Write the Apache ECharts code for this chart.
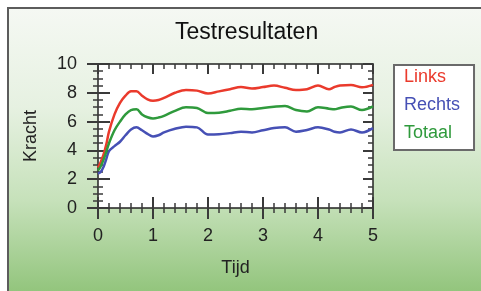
<!DOCTYPE html>
<html>
<head>
<meta charset="utf-8">
<script src="https://cdn.jsdelivr.net/npm/echarts@6/dist/echarts.min.js"></script>
<style>
  html, body { margin: 0; padding: 0; background: #fff; }
  #bg {
    position: absolute; left: 7px; top: 7px; width: 474px; height: 284px;
    border-top: 2px solid #5c5c5c; border-left: 2px solid #5c5c5c;
    box-sizing: border-box;
    background: linear-gradient(#f5f8f3 0%, #e6f1e1 35%, #c6e1ba 68%, #93c57d 100%);
  }
  #chart { position: absolute; left: 0; top: 0; width: 481px; height: 291px; }
</style>
</head>
<body>
<div id="bg"></div>
<div id="chart"></div>
<script>
// time (x) shared by all three curves
const tijd = [0, 0.05, 0.1, 0.15, 0.2, 0.3, 0.4, 0.5, 0.6, 0.7, 0.8, 0.9, 1.0, 1.1, 1.2, 1.4, 1.6, 1.8,
  2.0, 2.2, 2.4, 2.6, 2.8, 3.0, 3.2, 3.4, 3.6, 3.8, 4.0, 4.2, 4.3, 4.4, 4.6, 4.8, 5.0];

const links = [2.8, 3.2, 3.7, 4.4, 5.3, 6.5, 7.3, 7.8, 8.1, 8.1, 7.8, 7.55, 7.45, 7.5, 7.65, 8.0, 8.2, 8.15,
  7.95, 8.1, 8.25, 8.4, 8.3, 8.4, 8.5, 8.35, 8.2, 8.25, 8.5, 8.25, 8.4, 8.5, 8.55, 8.38, 8.55];

const rechts = [2.4, 2.5, 2.85, 3.4, 3.95, 4.3, 4.6, 5.05, 5.45, 5.6, 5.4, 5.15, 4.97, 5.05, 5.25, 5.5, 5.65, 5.6,
  5.1, 5.12, 5.2, 5.3, 5.25, 5.4, 5.55, 5.6, 5.3, 5.42, 5.6, 5.45, 5.3, 5.25, 5.45, 5.25, 5.55];

const totaal = [2.6, 2.9, 3.35, 3.9, 4.5, 5.4, 6.0, 6.5, 6.8, 6.85, 6.5, 6.3, 6.22, 6.28, 6.4, 6.75, 7.0, 6.95,
  6.6, 6.62, 6.75, 6.9, 6.85, 6.95, 7.03, 7.08, 6.8, 6.7, 7.0, 6.9, 6.85, 6.95, 7.05, 6.8, 7.05];

const seriesNames = ['Links', 'Rechts', 'Totaal'];
const seriesColors = ['#ea3a2c', '#4650b5', '#2f9a3c'];
const seriesValues = [links, rechts, totaal];

const font = 'Liberation Sans, Arial, sans-serif';
const tickColor = '#3a3a3a';

function xAx(extra) {
  return Object.assign({
    type: 'value', min: 0, max: 5, interval: 1,
    splitLine: { show: false },
    axisLine: { show: false, onZero: false },
    axisLabel: { show: false },
    axisTick: { show: true, length: 11, lineStyle: { color: tickColor, width: 2 } },
    minorTick: { show: true, splitNumber: 5, length: 5, lineStyle: { color: tickColor, width: 1.5 } }
  }, extra);
}
function yAx(extra) {
  return Object.assign({
    type: 'value', min: 0, max: 10, interval: 2,
    splitLine: { show: false },
    axisLine: { show: false, onZero: false },
    axisLabel: { show: false },
    axisTick: { show: true, length: 11, lineStyle: { color: tickColor, width: 2 } },
    minorTick: { show: true, splitNumber: 4, length: 5, lineStyle: { color: tickColor, width: 1.5 } }
  }, extra);
}
const frameLine = { show: true, onZero: false, lineStyle: { color: '#222', width: 1.5 } };

const chart = echarts.init(document.getElementById('chart'), null, { renderer: 'canvas' });
chart.setOption({
  animation: false,
  backgroundColor: 'transparent',
  title: {
    text: 'Testresultaten', left: 170, top: 16,
    textStyle: { fontFamily: font, fontSize: 23, fontWeight: 'normal', color: '#111' }
  },
  legend: {
    orient: 'vertical', left: 394, top: 65,
    padding: [3, 14, 8, 5],
    backgroundColor: '#fff', borderColor: '#6a6a6a', borderWidth: 2,
    icon: 'rect', itemWidth: 0, itemHeight: 16, itemGap: 10,
    itemStyle: { opacity: 0 }, lineStyle: { opacity: 0 },
    textStyle: { fontFamily: font, fontSize: 18, lineHeight: 16 },
    data: seriesNames.map((n, i) => ({ name: n, textStyle: { color: seriesColors[i] } }))
  },
  grid: {
    left: 98, right: 108, top: 64, bottom: 83,
    show: true, backgroundColor: '#fff', borderWidth: 0,
    containLabel: false, outerBoundsMode: 'none'
  },
  xAxis: [
    xAx({
      position: 'bottom',
      name: 'Tijd', nameLocation: 'middle', nameGap: 51,
      nameTextStyle: { fontFamily: font, fontSize: 18, color: '#222' },
      axisLine: frameLine,
      axisLabel: { show: true, margin: 19, fontFamily: font, fontSize: 18, color: '#222' }
    }),
    xAx({ position: 'bottom', axisTick: { show: true, inside: true, length: 11, lineStyle: { color: tickColor, width: 2 } } }),
    xAx({
      position: 'top',
      axisLine: frameLine,
      axisTick: { show: true, inside: true, length: 10, lineStyle: { color: tickColor, width: 2 } }
    })
  ],
  yAxis: [
    yAx({
      position: 'left',
      name: 'Kracht', nameLocation: 'middle', nameGap: 58,
      nameTextStyle: { fontFamily: font, fontSize: 18, color: '#222' },
      axisLine: frameLine,
      axisLabel: { show: true, margin: 21, fontFamily: font, fontSize: 18, color: '#222' }
    }),
    yAx({ position: 'left', axisTick: { show: true, inside: true, length: 12, lineStyle: { color: tickColor, width: 2 } } }),
    yAx({
      position: 'right',
      axisLine: frameLine,
      axisTick: { show: true, inside: true, length: 10, lineStyle: { color: tickColor, width: 2 } }
    })
  ],
  series: seriesNames.map((n, i) => ({
    name: n, type: 'line', xAxisIndex: 0, yAxisIndex: 0,
    data: tijd.map((t, k) => [t, seriesValues[i][k]]),
    showSymbol: false, smooth: 0.35,
    lineStyle: { color: seriesColors[i], width: 2.5 },
    itemStyle: { color: seriesColors[i] }
  }))
});
</script>
</body>
</html>
